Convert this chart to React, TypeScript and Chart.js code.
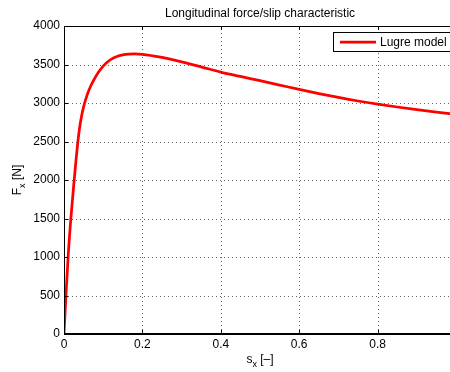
import React, { useEffect, useRef } from "react";
import { Chart, registerables } from "chart.js";

Chart.register(...registerables);

const slipValues = [0, 0.005, 0.0105, 0.0175, 0.026, 0.03, 0.035, 0.04, 0.045, 0.05, 0.055, 0.062, 0.07, 0.08, 0.09, 0.1, 0.11, 0.12, 0.135, 0.15, 0.165, 0.18, 0.2, 0.25, 0.3, 0.35, 0.4, 0.45, 0.5, 0.55, 0.6, 0.65, 0.7, 0.75, 0.8, 0.85, 0.9, 0.95, 1.0];
const forceValues = [0, 500, 1000, 1500, 2000, 2220, 2480, 2685, 2835, 2950, 3040, 3145, 3240, 3335, 3415, 3480, 3530, 3567, 3604, 3624, 3634, 3637, 3633, 3592, 3535, 3470, 3402, 3345, 3290, 3233, 3176, 3122, 3072, 3026, 2985, 2948, 2914, 2882, 2852];
const seriesLabel = "Lugre model";
const titleText = "Longitudinal force/slip characteristic";
const xTickStep = 0.2;
const yTickStep = 500;

const FONT = "'Liberation Sans', Arial, Helvetica, sans-serif";

const gridPlugin = {
  id: "dottedGrid",
  beforeDatasetsDraw(chart: any) {
    const { ctx, chartArea } = chart;
    const { left, right, top, bottom } = chartArea;
    const xs = chart.scales.x;
    const ys = chart.scales.y;
    ctx.save();
    ctx.strokeStyle = "rgba(0,0,0,0.6)";
    ctx.lineWidth = 1;
    ctx.setLineDash([1, 3]);
    ctx.beginPath();
    xs.ticks.forEach((t: any) => {
      const px = Math.round(xs.getPixelForValue(t.value)) + 0.5;
      ctx.moveTo(px, bottom);
      ctx.lineTo(px, top);
    });
    ys.ticks.forEach((t: any) => {
      const py = Math.round(ys.getPixelForValue(t.value)) + 0.5;
      ctx.moveTo(left, py);
      ctx.lineTo(right, py);
    });
    ctx.stroke();
    ctx.restore();
  },
};

const decorPlugin = {
  id: "decor",
  afterDraw(chart: any) {
    const { ctx, chartArea } = chart;
    const { left, right, top, bottom } = chartArea;
    const xs = chart.scales.x;
    const ys = chart.scales.y;
    ctx.save();
    // box
    ctx.strokeStyle = "#000";
    ctx.lineWidth = 1;
    ctx.strokeRect(left + 0.5, top + 0.5, right - left - 1, bottom - top - 1);
    // inward ticks
    const tl = 4;
    ctx.beginPath();
    xs.ticks.forEach((t: any) => {
      const px = Math.round(xs.getPixelForValue(t.value)) + 0.5;
      ctx.moveTo(px, bottom);
      ctx.lineTo(px, bottom - tl);
      ctx.moveTo(px, top);
      ctx.lineTo(px, top + tl);
    });
    ys.ticks.forEach((t: any) => {
      const py = Math.round(ys.getPixelForValue(t.value)) + 0.5;
      ctx.moveTo(left, py);
      ctx.lineTo(left + tl, py);
      ctx.moveTo(right, py);
      ctx.lineTo(right - tl, py);
    });
    ctx.stroke();

    // title
    ctx.fillStyle = "#000";
    ctx.font = `12px ${FONT}`;
    ctx.textAlign = "center";
    ctx.textBaseline = "alphabetic";
    ctx.fillText(titleText, (left + right) / 2, 17);

    const measure = (main: string, sub: string, rest: string) => {
      ctx.font = `12px ${FONT}`;
      const w1 = ctx.measureText(main).width;
      const w3 = ctx.measureText(rest).width;
      ctx.font = `9px ${FONT}`;
      const w2 = ctx.measureText(sub).width;
      return { w1, w2, w3, total: w1 + w2 + w3 };
    };
    {
      const m = measure("s", "x", " [\u2013]");
      const cx = (left + right) / 2;
      const x0 = cx - m.total / 2;
      const base = 363;
      ctx.textAlign = "left";
      ctx.font = `12px ${FONT}`;
      ctx.fillText("s", x0, base);
      ctx.font = `9px ${FONT}`;
      ctx.fillText("x", x0 + m.w1, base + 4);
      ctx.font = `12px ${FONT}`;
      ctx.fillText(" [\u2013]", x0 + m.w1 + m.w2, base);
    }
    {
      const m = measure("F", "x", " [N]");
      const cy = (top + bottom) / 2;
      ctx.save();
      ctx.translate(21, cy);
      ctx.rotate(-Math.PI / 2);
      const x0 = -m.total / 2;
      ctx.textAlign = "left";
      ctx.font = `12px ${FONT}`;
      ctx.fillText("F", x0, 0);
      ctx.font = `9px ${FONT}`;
      ctx.fillText("x", x0 + m.w1, 4);
      ctx.font = `12px ${FONT}`;
      ctx.fillText(" [N]", x0 + m.w1 + m.w2, 0);
      ctx.restore();
    }

    // legend
    const lx = 333;
    const ly = 32;
    const lw = 130;
    const lh = 19;
    ctx.fillStyle = "#fff";
    ctx.fillRect(lx, ly, lw, lh);
    ctx.strokeStyle = "#000";
    ctx.lineWidth = 1;
    ctx.strokeRect(lx + 0.5, ly + 0.5, lw, lh);
    ctx.strokeStyle = "#ff0000";
    ctx.lineWidth = 2.75;
    ctx.beginPath();
    ctx.moveTo(340, ly + lh / 2 + 0.5);
    ctx.lineTo(376, ly + lh / 2 + 0.5);
    ctx.stroke();
    ctx.fillStyle = "#000";
    ctx.font = `12px ${FONT}`;
    ctx.textAlign = "left";
    ctx.textBaseline = "middle";
    ctx.fillText(seriesLabel, 380, ly + lh / 2 + 1);
    ctx.restore();
  },
};

export default function App() {
  const ref = useRef<HTMLCanvasElement>(null);
  useEffect(() => {
    if (!ref.current) return;
    const data = slipValues.map((s, i) => ({ x: s, y: forceValues[i] }));
    const chart = new Chart(ref.current, {
      type: "line",
      data: {
        datasets: [
          {
            label: seriesLabel,
            data,
            borderColor: "#ff0000",
            borderWidth: 2.75,
            pointRadius: 0,
            fill: false,
            cubicInterpolationMode: "monotone",
          },
        ],
      },
      options: {
        animation: false,
        responsive: false,
        devicePixelRatio: 1,
        events: [],
        layout: { padding: { top: 26, right: 14, left: 0, bottom: 0 } },
        plugins: { legend: { display: false }, title: { display: false }, tooltip: { enabled: false } },
        scales: {
          x: {
            type: "linear",
            min: 0,
            max: 1,
            afterFit: (s: any) => {
              s.height = 38;
            },
            ticks: {
              stepSize: xTickStep,
              color: "#000",
              font: { family: FONT, size: 12 },
              padding: 3,
              maxRotation: 0,
              callback: (v: any) => String(Number(Number(v).toFixed(1))),
            },
            grid: { display: false, drawTicks: false },
            border: { display: true, color: "#000", width: 1 },
          },
          y: {
            min: 0,
            max: 4000,
            afterFit: (s: any) => {
              s.width = 64;
            },
            ticks: {
              stepSize: yTickStep,
              color: "#000",
              font: { family: FONT, size: 12 },
              padding: 4,
              callback: (v: any) => String(v),
            },
            grid: { display: false, drawTicks: false },
            border: { display: true, color: "#000", width: 1 },
          },
        },
      } as any,
      plugins: [gridPlugin, decorPlugin],
    });
    return () => chart.destroy();
  }, []);
  return (
    <div style={{ position: "fixed", left: 0, top: 0, width: 450, height: 372, overflow: "hidden", background: "#fff" }}>
      <canvas ref={ref} width={470} height={372} style={{ display: "block", width: 470, height: 372 }} />
    </div>
  );
}
